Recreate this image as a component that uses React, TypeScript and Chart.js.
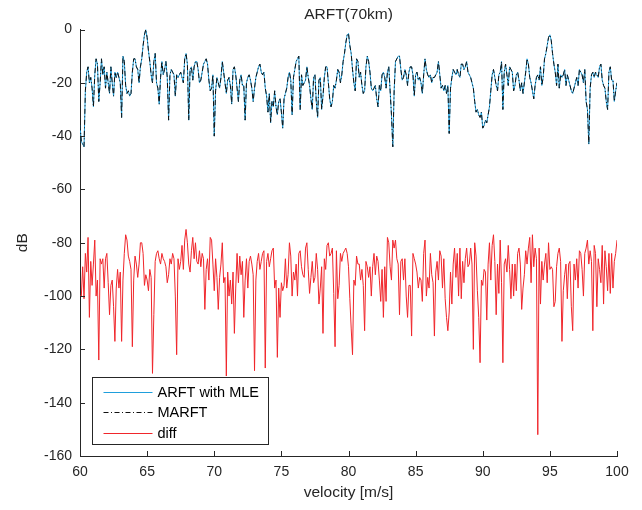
import { useEffect, useRef } from 'react';
import { Chart, registerables } from 'chart.js';

Chart.register(...registerables);

// velocity grid: 60.0 .. 100.0 m/s, step 0.1
const VEL_START = 60;
const VEL_STEP = 0.1;

// ARFT with MLE (dB), one row per 1 m/s
const ARFT_MLE = [
  -36, -42, -43, -44, -23, -16, -14, -20, -18, -22,
  -29, -17, -11, -13, -27, -20, -11, -17, -14, -22,
  -16, -20, -24, -14, -20, -25, -16, -18, -16, -18,
  -20, -33, -10, -12, -21, -24, -23, -25, -24, -16,
  -11, -11, -14, -15, -20, -14, -11, -6, -2, 0,
  -3, -8, -12, -17, -20, -12, -9, -20, -22, -28,
  -18, -12, -17, -15, -12, -18, -34, -17, -15, -16,
  -17, -25, -17, -18, -17, -16, -18, -20, -11, -9,
  -13, -34, -15, -14, -19, -14, -12, -12, -15, -20,
  -19, -16, -13, -12, -11, -13, -19, -23, -22, -17,
  -40, -23, -18, -20, -22, -18, -12, -16, -20, -24,
  -19, -18, -21, -28, -15, -14, -17, -22, -27, -19,
  -17, -21, -21, -34, -20, -18, -17, -19, -22, -27,
  -22, -18, -16, -14, -13, -16, -17, -16, -22, -25,
  -31, -24, -35, -27, -29, -23, -29, -32, -27, -26,
  -31, -37, -26, -24, -22, -18, -16, -19, -32, -18,
  -15, -12, -11, -10, -30, -17, -21, -20, -19, -14,
  -18, -21, -26, -30, -18, -17, -27, -33, -19, -18,
  -30, -25, -18, -14, -14, -20, -26, -29, -27, -21,
  -22, -19, -15, -16, -20, -17, -12, -9, -5, -2,
  -1.5, -6, -9, -15, -20, -23, -11, -12, -18, -16,
  -21, -24, -23, -14, -10, -12, -16, -22, -23, -22,
  -21, -26, -29, -21, -23, -17, -16, -18, -22, -16,
  -14, -23, -32, -44, -23, -12, -11, -10, -10, -15,
  -19, -18, -15, -17, -21, -16, -14, -14, -17, -25,
  -17, -16, -19, -18, -20, -24, -17, -11, -15, -17,
  -18, -17, -20, -18, -18, -17, -16, -12, -17, -22,
  -21, -23, -21, -24, -21, -39, -22, -18, -15, -16,
  -17, -15, -17, -18, -13, -13, -15, -14, -12, -16,
  -17, -18, -20, -22, -27, -31, -30, -32, -33, -31,
  -37, -36, -34, -35, -32, -29, -23, -17, -15, -18,
  -21, -23, -17, -16, -12, -30, -16, -13, -17, -21,
  -14, -15, -16, -23, -21, -17, -16, -19, -23, -20,
  -24, -20, -16, -11, -13, -18, -20, -23, -26, -21,
  -18, -17, -19, -14, -21, -18, -11, -9, -6, -3,
  -2, -4, -9, -13, -16, -21, -13, -22, -17, -18,
  -17, -15, -21, -17, -19, -21, -23, -24, -22, -20,
  -18, -21, -15, -16, -17, -20, -15, -27, -30, -43,
  -22, -17, -16, -18, -16, -17, -18, -14, -13, -19,
  -21, -22, -27, -30, -16, -14, -19, -19, -27, -23,
  -20,
];

// MARFT (dB) - coincides with ARFT with MLE at this scale
const MARFT = ARFT_MLE.slice();

// diff (dB)
const DIFF = [
  -100, -100, -89, -101, -84, -91, -78, -108, -87, -96,
  -88, -79, -100, -94, -124, -86, -88, -86, -97, -86,
  -84, -95, -107, -96, -94, -104, -117, -97, -90, -97,
  -91, -117, -94, -84, -77, -79, -85, -87, -90, -119,
  -94, -85, -88, -93, -88, -80, -80, -84, -96, -92,
  -94, -98, -90, -93, -129, -107, -87, -84, -83, -86,
  -88, -84, -86, -87, -89, -95, -92, -86, -88, -84,
  -86, -100, -122, -86, -90, -87, -81, -90, -79, -75,
  -80, -88, -91, -83, -78, -86, -80, -87, -88, -83,
  -89, -84, -86, -105, -90, -86, -94, -78, -79, -88,
  -98, -86, -93, -105, -93, -88, -80, -95, -93, -130,
  -91, -100, -94, -103, -91, -114, -97, -84, -95, -85,
  -92, -87, -108, -94, -86, -97, -87, -85, -88, -92,
  -128, -94, -87, -84, -90, -87, -84, -83, -127, -87,
  -84, -89, -86, -83, -82, -97, -94, -123, -97, -108,
  -95, -98, -96, -86, -97, -92, -80, -85, -100, -91,
  -94, -88, -100, -84, -83, -89, -92, -93, -82, -80,
  -90, -99, -93, -87, -95, -93, -84, -90, -103, -97,
  -89, -114, -86, -90, -81, -80, -85, -84, -82, -99,
  -119, -83, -101, -96, -84, -87, -84, -83, -82, -84,
  -89, -101, -112, -122, -94, -96, -85, -88, -88, -94,
  -90, -96, -113, -87, -89, -93, -89, -100, -89, -84,
  -92, -85, -87, -94, -102, -90, -108, -89, -102, -78,
  -80, -89, -94, -79, -82, -79, -86, -88, -107, -87,
  -86, -94, -86, -100, -108, -96, -96, -115, -84, -86,
  -88, -91, -97, -93, -94, -102, -84, -79, -100, -93,
  -97, -84, -92, -95, -115, -91, -87, -94, -83, -85,
  -97, -86, -101, -108, -113, -106, -91, -103, -88, -82,
  -93, -84, -100, -82, -101, -87, -95, -86, -82, -89,
  -88, -82, -88, -120, -80, -85, -98, -108, -125, -94,
  -96, -90, -91, -109, -88, -80, -94, -81, -77, -87,
  -107, -88, -99, -79, -95, -125, -88, -86, -91, -81,
  -90, -101, -88, -100, -88, -98, -84, -82, -88, -105,
  -97, -92, -83, -88, -82, -78, -95, -77, -89, -82,
  -86, -152, -82, -103, -87, -94, -88, -84, -95, -80,
  -90, -89, -90, -104, -102, -89, -84, -82, -87, -117,
  -98, -92, -88, -101, -88, -87, -104, -113, -88, -94,
  -86, -97, -83, -84, -90, -100, -84, -82, -79, -88,
  -83, -87, -113, -81, -84, -104, -86, -90, -95, -81,
  -103, -83, -89, -98, -84, -99, -84, -97, -87, -84,
  -79,
];

const X_TICKS = [60, 65, 70, 75, 80, 85, 90, 95, 100];
const Y_TICKS = [0, -20, -40, -60, -80, -100, -120, -140, -160];
const SERIES_LABELS = ['ARFT with MLE', 'MARFT', 'diff'];
const TITLE = 'ARFT(70km)';
const X_LABEL = 'velocity [m/s]';
const Y_LABEL = 'dB';

const FONT = "'Liberation Sans', Arial, Helvetica, sans-serif";
const AXIS_COLOR = '#262626';
const BLUE = '#1f9fdc';
const BLACK = '#111111';
const RED = '#f0262b';
const DASHDOT = [5, 2.5, 1, 2.5];

const inwardTicks = {
  id: 'inwardTicks',
  afterDatasetsDraw(chart: any) {
    const { ctx, chartArea: ca, scales } = chart;
    const x = scales.x;
    const y = scales.y;
    ctx.save();
    ctx.strokeStyle = AXIS_COLOR;
    ctx.lineWidth = 1;
    ctx.setLineDash([]);
    ctx.beginPath();
    X_TICKS.forEach((v) => {
      const px = Math.round(x.getPixelForValue(v)) + 0.5;
      ctx.moveTo(px, ca.bottom);
      ctx.lineTo(px, ca.bottom - 5);
    });
    Y_TICKS.forEach((v) => {
      const py = Math.round(y.getPixelForValue(v)) + 0.5;
      ctx.moveTo(ca.left, py);
      ctx.lineTo(ca.left + 5, py);
    });
    ctx.stroke();
    ctx.restore();
  },
};

const boxLegend = {
  id: 'boxLegend',
  afterDraw(chart: any) {
    const { ctx, chartArea: ca } = chart;
    const w = 176;
    const h = 67;
    const bx = Math.round(ca.left + 12) + 0.5;
    const by = Math.round(ca.bottom - 12 - h) + 0.5;
    ctx.save();
    ctx.fillStyle = '#ffffff';
    ctx.fillRect(bx, by, w, h);
    ctx.strokeStyle = AXIS_COLOR;
    ctx.lineWidth = 1;
    ctx.setLineDash([]);
    ctx.strokeRect(bx, by, w, h);
    const rows = [14, 34.5, 55];
    chart.data.datasets.forEach((ds: any, i: number) => {
      const ly = Math.round(by + rows[i]) + 0.5;
      ctx.beginPath();
      ctx.strokeStyle = ds.borderColor;
      ctx.lineWidth = 1;
      ctx.setLineDash(ds.borderDash || []);
      ctx.moveTo(bx + 11, ly);
      ctx.lineTo(bx + 60, ly);
      ctx.stroke();
      ctx.setLineDash([]);
      ctx.fillStyle = '#000000';
      ctx.font = `14.5px ${FONT}`;
      ctx.textBaseline = 'middle';
      ctx.textAlign = 'left';
      ctx.fillText(ds.label, bx + 65, ly);
    });
    ctx.restore();
  },
};

export default function App() {
  const ref = useRef<HTMLCanvasElement | null>(null);

  useEffect(() => {
    if (!ref.current) return;
    const velocities = ARFT_MLE.map((_, i) => Math.round((VEL_START + i * VEL_STEP) * 10) / 10);
    const pts = (arr: number[]) => arr.map((y, i) => ({ x: velocities[i], y }));

    const chart = new Chart(ref.current, {
      type: 'line',
      data: {
        datasets: [
          {
            label: SERIES_LABELS[0],
            data: pts(ARFT_MLE),
            borderColor: BLUE,
            borderWidth: 1,
            pointRadius: 0,
            tension: 0,
            order: 2,
          },
          {
            label: SERIES_LABELS[1],
            data: pts(MARFT),
            borderColor: BLACK,
            borderWidth: 1,
            borderDash: DASHDOT,
            pointRadius: 0,
            tension: 0,
            order: 1,
          },
          {
            label: SERIES_LABELS[2],
            data: pts(DIFF),
            borderColor: RED,
            borderWidth: 1,
            pointRadius: 0,
            tension: 0,
            order: 0,
          },
        ],
      },
      options: {
        responsive: false,
        animation: false,
        devicePixelRatio: 1,
        layout: { padding: { left: 0, right: 25, top: 0, bottom: 0 } },
        plugins: {
          legend: { display: false },
          tooltip: { enabled: false },
          title: {
            display: true,
            fullSize: false,
            text: TITLE,
            color: AXIS_COLOR,
            font: { family: FONT, size: 15.5, weight: 'normal' },
            padding: { top: 5.5, bottom: 5.4 },
          },
        },
        scales: {
          x: {
            type: 'linear',
            min: 60,
            max: 100,
            afterFit: (s: any) => {
              s.height = 54;
            },
            afterBuildTicks: (s: any) => {
              s.ticks = X_TICKS.map((v) => ({ value: v }));
            },
            ticks: {
              color: AXIS_COLOR,
              font: { family: FONT, size: 14 },
              padding: 8,
              maxRotation: 0,
            },
            grid: { display: true, drawOnChartArea: false, drawTicks: false },
            border: { display: true, color: AXIS_COLOR, width: 1 },
            title: {
              display: true,
              text: X_LABEL,
              color: AXIS_COLOR,
              font: { family: FONT, size: 15.5 },
              padding: { top: 0, bottom: 8 },
            },
          },
          y: {
            type: 'linear',
            min: -160,
            max: 0,
            afterFit: (s: any) => {
              s.width = 80;
            },
            afterBuildTicks: (s: any) => {
              s.ticks = Y_TICKS.map((v) => ({ value: v }));
            },
            ticks: {
              color: AXIS_COLOR,
              font: { family: FONT, size: 14 },
              padding: 8,
            },
            grid: { display: true, drawOnChartArea: false, drawTicks: false },
            border: { display: true, color: AXIS_COLOR, width: 1 },
            title: {
              display: true,
              text: Y_LABEL,
              color: AXIS_COLOR,
              font: { family: FONT, size: 15.5 },
              padding: { top: 13, bottom: 0 },
            },
          },
        },
      },
      plugins: [inwardTicks, boxLegend],
    } as any);

    return () => chart.destroy();
  }, []);

  return (
    <div style={{ position: 'fixed', left: 0, top: 0, width: 642, height: 510, background: '#ffffff' }}>
      <canvas ref={ref} width={642} height={510} style={{ display: 'block', width: 642, height: 510 }} />
    </div>
  );
}
